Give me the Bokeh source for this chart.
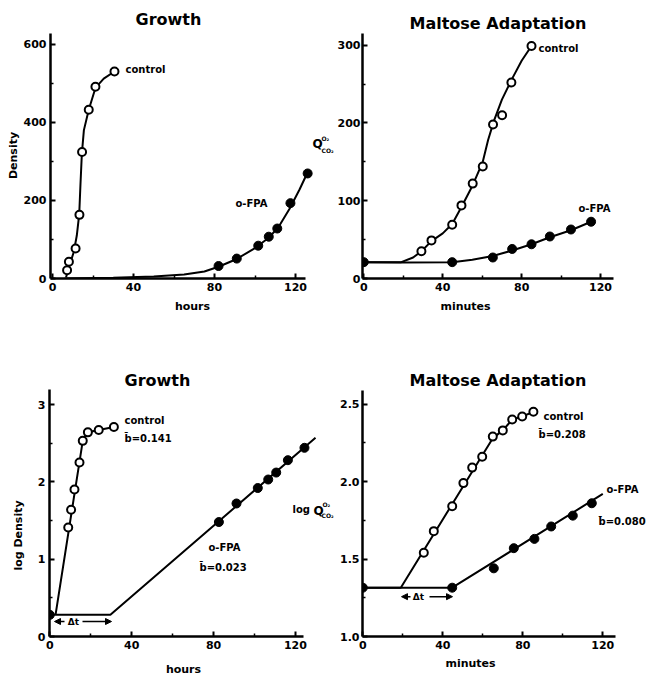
from math import pi
from bokeh.plotting import figure
from bokeh.layouts import column, row
from bokeh.models import (Range1d, FixedTicker, Label, Arrow, NormalHead,
                          NumeralTickFormatter)
from bokeh.embed import file_html
from bokeh.resources import INLINE

# ---------------- data ----------------
# Growth (density vs hours)
g1_ctrl_x = [7.2, 8.1, 11.4, 13.3, 14.6, 17.9, 21.2, 30.6]
g1_ctrl_y = [21, 43, 77, 163, 324, 432, 491, 530]
g1_ctrl_curve_x = [6.7, 8.5, 10.5, 12.0, 13.2, 13.8, 14.5, 15.5, 17.9, 21.2, 25.3, 30.6]
g1_ctrl_curve_y = [3, 35, 68, 110, 165, 240, 320, 380, 432, 488, 512, 530]
g1_fpa_x = [82, 91, 101.6, 106.8, 111, 117.5, 126]
g1_fpa_y = [32, 51, 84, 107, 128, 193, 269]
g1_fpa_curve_x = [6, 30, 50, 65, 75, 82, 91, 100, 107, 112, 117, 122, 126]
g1_fpa_curve_y = [0, 2, 5, 10, 18, 30, 50, 78, 105, 135, 178, 228, 272]

# Maltose adaptation (Q vs minutes)
m1_start_x = [0]
m1_start_y = [21]
m1_ctrl_x = [29.2, 34.3, 44.8, 49.5, 55.2, 60.3, 65.5, 70.1, 74.8, 85]
m1_ctrl_y = [35, 49, 69, 94, 122, 144, 198, 210, 252, 299]
m1_ctrl_curve_x = [0, 19, 25, 29.2, 34.3, 40, 44.8, 49.5, 55.2, 60.3, 63, 66, 70, 75, 80, 85]
m1_ctrl_curve_y = [21, 21, 27, 35, 48, 58, 70, 92, 120, 150, 178, 203, 230, 256, 280, 299]
m1_fpa_x = [44.8, 65.4, 75.2, 85, 94.3, 105, 115.2]
m1_fpa_y = [21, 27, 38, 44, 54, 63, 73]
m1_fpa_curve_x = [0, 20, 44.8, 55, 65.4, 75.2, 85, 94.3, 105, 115.2]
m1_fpa_curve_y = [21, 20.5, 21, 24, 29, 36, 44, 53, 62, 73]

# Growth (log density vs hours)
g2_start_x = [0]
g2_start_y = [0.28]
g2_ctrl_x = [9.0, 10.4, 12.05, 14.5, 16.1, 18.6, 23.9, 31.3]
g2_ctrl_y = [1.41, 1.64, 1.90, 2.25, 2.53, 2.64, 2.67, 2.71]
g2_ctrl_line_x = [2.8, 16.1, 18.6, 23.9, 31.3]
g2_ctrl_line_y = [0.28, 2.53, 2.64, 2.67, 2.71]
g2_fpa_x = [82.6, 91.2, 101.6, 106.7, 110.6, 116.3, 124.4]
g2_fpa_y = [1.48, 1.72, 1.92, 2.03, 2.12, 2.28, 2.44]
g2_fpa_line_x = [0, 29.6, 129.8]
g2_fpa_line_y = [0.28, 0.28, 2.57]

# Maltose adaptation (log Q vs minutes)
m2_start_x = [0]
m2_start_y = [1.315]
m2_ctrl_x = [30.5, 35.5, 44.7, 50.3, 54.7, 59.7, 65, 70, 74.7, 79.7, 85.3]
m2_ctrl_y = [1.54, 1.68, 1.84, 1.99, 2.09, 2.16, 2.29, 2.33, 2.40, 2.42, 2.45]
m2_ctrl_line_x = [0, 19, 65, 70, 74.7, 79.7, 85.3]
m2_ctrl_line_y = [1.315, 1.315, 2.28, 2.33, 2.40, 2.42, 2.45]
m2_fpa_x = [44.7, 65.5, 75.5, 85.8, 94.2, 105, 114.5]
m2_fpa_y = [1.315, 1.44, 1.57, 1.63, 1.71, 1.78, 1.86]
m2_fpa_line_x = [0, 44.7, 120]
m2_fpa_line_y = [1.315, 1.315, 1.92]

x_ticks = [0, 40, 80, 120]
x_minor = [20, 60, 100]
g1_y_ticks = [0, 200, 400, 600]
g1_y_minor = [100, 300, 500]
m1_y_ticks = [0, 100, 200, 300]
m1_y_minor = [50, 150, 250]
g2_y_ticks = [0, 1, 2, 3]
g2_y_minor = [0.5, 1.5, 2.5]
m2_y_ticks = [1.0, 1.5, 2.0, 2.5]
m2_y_minor = [1.25, 1.75, 2.25]

# ---------------- layout geometry (page pixels, page origin at 0,0) ----------------
FONT = "DejaVu Sans"

# frame: left, right, top, bottom, x range, y range
G1 = dict(L=50, R=334, T=33, B=278, xr=(-0.99, 139.26), yr=(0, 627.4))
G2 = dict(L=362, R=648, T=32, B=278, xr=(-0.66, 144.3), yr=(0, 315))
G3 = dict(L=49, R=336, T=389, B=636, xr=(-0.15, 140.05), yr=(0, 3.194))
G4 = dict(L=362, R=648, T=389, B=637, xr=(-0.15, 142.85), yr=(1.0, 2.594))


def to_data(g, X, Y):
    x0, x1 = g["xr"]
    y0, y1 = g["yr"]
    return (x0 + (X - g["L"]) * (x1 - x0) / (g["R"] - g["L"]),
            y0 + (g["B"] - Y) * (y1 - y0) / (g["B"] - g["T"]))


def make_fig(g, w, h, cx, cy, xb, yb, yt, ymt, title, t_left, t_standoff, ystand=4):
    p = figure(width=w, height=h, x_range=Range1d(*g["xr"]), y_range=Range1d(*g["yr"]),
               output_backend="svg", toolbar_location=None,
               min_border_left=g["L"] - cx, min_border_right=cx + w - g["R"],
               min_border_top=g["T"] - cy, min_border_bottom=cy + h - g["B"])
    p.title.text = title
    p.title.align = "left"
    p.title.offset = t_left - g["L"]
    p.title.standoff = t_standoff
    p.title.text_font = FONT
    p.title.text_font_size = "16px"
    p.title.text_font_style = "bold"
    p.title.text_color = "black"
    p.grid.visible = False
    p.outline_line_color = None
    p.xaxis.ticker = FixedTicker(ticks=x_ticks, minor_ticks=x_minor)
    p.yaxis.ticker = FixedTicker(ticks=yt, minor_ticks=ymt)
    p.xaxis.bounds = xb
    p.yaxis.bounds = yb
    for ax in (p.xaxis[0], p.yaxis[0]):
        ax.axis_line_width = 2.5
        ax.axis_line_color = "black"
        ax.major_tick_in = 5
        ax.major_tick_out = 0
        ax.major_tick_line_width = 2
        ax.minor_tick_in = 3
        ax.minor_tick_out = 0
        ax.minor_tick_line_width = 1.5
        ax.major_label_text_font = FONT
        ax.major_label_text_font_style = "bold"
        ax.major_label_text_font_size = "11px"
        ax.major_label_text_color = "black"
        ax.major_label_standoff = 4
    p.yaxis.major_label_standoff = ystand
    return p


def make_label(g, X, Y, text, size, align, angle):
    x, y = to_data(g, X, Y)
    return Label(x=x, y=y, text=text, text_font=FONT, text_font_size=f"{size}px",
                 text_font_style="bold", text_align=align, text_baseline="middle",
                 angle=angle, text_color="black")


def lab(p, g, X, Y, text, size=10, align="left", angle=0.0):
    p.add_layout(make_label(g, X, Y, text, size, align, angle))


def axis_title(p, g, side, text, X, Y):
    """Axis title placed in the plot's side panel (outside the frame, so not clipped)."""
    angle = pi / 2 if side == "left" else 0.0
    p.add_layout(make_label(g, X, Y, text, 11, "center", angle), side)


def arrow(p, g, X0, X1, Y):
    xa, ya = to_data(g, X0, Y)
    xb, yb = to_data(g, X1, Y)
    p.add_layout(Arrow(end=NormalHead(size=6, fill_color="black", line_color="black"),
                       x_start=xa, y_start=ya, x_end=xb, y_end=yb,
                       line_width=1.5, line_color="black"))


def open_pts(p, x, y):
    p.scatter(x, y, marker="circle", size=8, fill_color="white", line_color="black", line_width=2)


def full_pts(p, x, y):
    p.scatter(x, y, marker="circle", size=9, fill_color="black", line_color="black")


# ---------------- panel 1: Growth ----------------
p1 = make_fig(G1, 334, 330, 0, 0, (-0.99, 125), (0, 627), g1_y_ticks, g1_y_minor,
              "Growth", 135, 10)
p1.line(g1_ctrl_curve_x, g1_ctrl_curve_y, line_color="black", line_width=2)
p1.line(g1_fpa_curve_x, g1_fpa_curve_y, line_color="black", line_width=2)
open_pts(p1, g1_ctrl_x, g1_ctrl_y)
full_pts(p1, g1_fpa_x, g1_fpa_y)
axis_title(p1, G1, "left", "Density", 13, 155)
axis_title(p1, G1, "below", "hours", 192, 306)
lab(p1, G1, 125, 69, "control", 10)
lab(p1, G1, 235, 203, "o-FPA", 10)
# y-axis title of the right-hand panel (kept inside this canvas so it is not clipped)
lab(p1, G1, 312, 143, "Q", 12)
lab(p1, G1, 321, 138, "O\u2082", 6)
lab(p1, G1, 321, 150, "CO\u2082", 6)

# ---------------- panel 2: Maltose Adaptation ----------------
p2 = make_fig(G2, 314, 330, 334, 0, (-0.66, 126.6), (0, 315), m1_y_ticks, m1_y_minor,
              "Maltose  Adaptation", 409, 2, ystand=2)
p2.line(m1_ctrl_curve_x, m1_ctrl_curve_y, line_color="black", line_width=2)
p2.line(m1_fpa_curve_x, m1_fpa_curve_y, line_color="black", line_width=2)
open_pts(p2, m1_ctrl_x, m1_ctrl_y)
full_pts(p2, m1_fpa_x, m1_fpa_y)
full_pts(p2, m1_start_x, m1_start_y)
axis_title(p2, G2, "below", "minutes", 465, 306)
lab(p2, G2, 538, 47, "control", 10)
lab(p2, G2, 578, 208, "o-FPA", 10)

# ---------------- panel 3: Growth (log) ----------------
p3 = make_fig(G3, 336, 348, 0, 330, (-0.15, 124), (0, 3.19), g2_y_ticks, g2_y_minor,
              "Growth", 124, 0)
p3.line(g2_ctrl_line_x, g2_ctrl_line_y, line_color="black", line_width=2)
p3.line(g2_fpa_line_x, g2_fpa_line_y, line_color="black", line_width=2)
open_pts(p3, g2_ctrl_x, g2_ctrl_y)
full_pts(p3, g2_fpa_x, g2_fpa_y)
full_pts(p3, g2_start_x, g2_start_y)
axis_title(p3, G3, "left", "log Density", 18, 535)
axis_title(p3, G3, "below", "hours", 183, 669)
lab(p3, G3, 124, 420, "control", 10)
lab(p3, G3, 124, 438, "b\u0304=0.141", 10)
lab(p3, G3, 208, 547, "o-FPA", 10)
lab(p3, G3, 199, 567, "b\u0304=0.023", 10)
arrow(p3, G3, 64, 54, 621)
arrow(p3, G3, 82, 111, 621)
lab(p3, G3, 73, 621, "\u0394t", 9, "center")
# y-axis title of the right-hand log panel (kept inside this canvas so it is not clipped)
lab(p3, G3, 292, 509, "log", 10)
lab(p3, G3, 313, 510, "Q", 12)
lab(p3, G3, 322, 504, "O\u2082", 6)
lab(p3, G3, 321, 515, "CO\u2082", 6)

# ---------------- panel 4: Maltose Adaptation (log) ----------------
p4 = make_fig(G4, 312, 348, 336, 330, (-0.15, 126.5), (1.0, 2.59), m2_y_ticks, m2_y_minor,
              "Maltose  Adaptation", 409, 0, ystand=3)
p4.yaxis.formatter = NumeralTickFormatter(format="0.0")
p4.line(m2_ctrl_line_x, m2_ctrl_line_y, line_color="black", line_width=2)
p4.line(m2_fpa_line_x, m2_fpa_line_y, line_color="black", line_width=2)
open_pts(p4, m2_ctrl_x, m2_ctrl_y)
full_pts(p4, m2_fpa_x, m2_fpa_y)
full_pts(p4, m2_start_x, m2_start_y)
axis_title(p4, G4, "below", "minutes", 470, 664)
lab(p4, G4, 543, 416, "control", 10)
lab(p4, G4, 538, 434, "b\u0304=0.208", 10)
lab(p4, G4, 606, 489, "o-FPA", 10)
lab(p4, G4, 598, 522, "b\u0304=0.080", 10)
arrow(p4, G4, 410, 401, 597)
arrow(p4, G4, 429, 452, 597)
lab(p4, G4, 418, 597, "\u0394t", 9, "center")

layout = column(row(p1, p2), row(p3, p4))
open("out.html", "w").write(file_html(layout, INLINE))
